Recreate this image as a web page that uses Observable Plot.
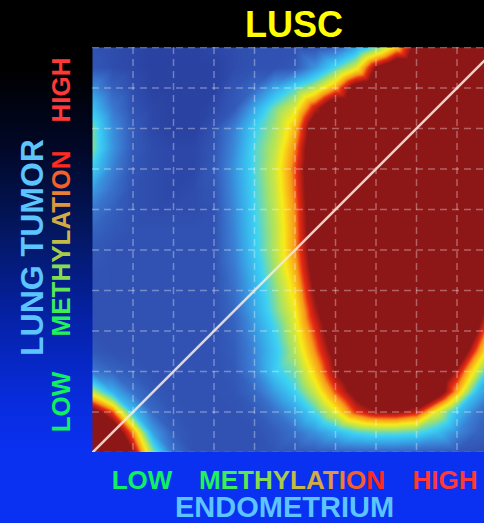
<!DOCTYPE html>
<html>
<head>
<meta charset="utf-8">
<script src="https://cdn.jsdelivr.net/npm/d3@7"></script>
<script src="https://cdn.jsdelivr.net/npm/@observablehq/plot@0.6"></script>
<style>
  html, body { margin: 0; padding: 0; }
  body {
    width: 484px; height: 523px; overflow: hidden;
    background: linear-gradient(to bottom, #000 0px, #000 70px, #010828 150px, #031760 230px, #0522a8 320px, #082cdc 400px, #0a30f0 450px, #0a30f2 523px);
    font-family: "Liberation Sans", Arial, sans-serif;
  }
  #wrap { position: relative; width: 484px; height: 523px; }
  #wrap > svg { position: absolute; left: 0; top: 0; }
</style>
</head>
<body>
<div id="wrap"></div>
<script>
// ---- data ----
const title = "LUSC";
const xLabel = "ENDOMETRIUM";
const yLabel = "LUNG TUMOR";
const scaleWords = ["LOW", "METHYLATION", "HIGH"];
const methylationColors = ["#22f25a", "#3cee58", "#5ee656", "#84dc52", "#a8cc4a", "#c4ba46", "#d4aa42", "#e0983c", "#ea8034", "#f4602a", "#ff2a20"];

// sample grid of the density surface (x: endometrium, y: lung tumor methylation)
const gridX = [0, 0.05, 0.10, 0.15, 0.20, 0.25, 0.30, 0.35, 0.40, 0.45, 0.50, 0.55, 0.60, 0.65, 0.70, 0.75, 0.80, 0.85, 0.90, 0.95, 1.00];
const gridY = [1.00, 0.95, 0.90, 0.85, 0.80, 0.75, 0.70, 0.65, 0.60, 0.55, 0.50, 0.45, 0.40, 0.35, 0.30, 0.25, 0.20, 0.15, 0.10, 0.05, 0];
const density = [
  [1.0, 0.9, 0.8, 0.7, 0.7, 0.7, 0.8, 0.9, 1.0, 1.0, 1.0, 1.0, 1.5, 2.9, 4.5, 6.5, 9.0, 10, 10, 10, 10],
  [1.1, 0.9, 0.8, 0.7, 0.7, 0.7, 0.7, 0.9, 1.0, 1.0, 1.2, 2.6, 4.2, 5.7, 8.6, 10, 10, 10, 10, 10, 10],
  [2.5, 1.4, 0.9, 0.7, 0.7, 0.7, 0.7, 1.1, 1.6, 3.0, 4.2, 5.3, 6.9, 9.2, 10, 10, 10, 10, 10, 10, 10],
  [3.6, 2.0, 1.0, 0.8, 0.7, 0.7, 0.8, 1.2, 3.0, 4.6, 5.7, 8.0, 10, 10, 10, 10, 10, 10, 10, 10, 10],
  [4.6, 2.5, 1.2, 0.8, 0.7, 0.7, 1.0, 2.2, 3.9, 5.0, 6.6, 9.5, 10, 10, 10, 10, 10, 10, 10, 10, 10],
  [4.7, 2.6, 1.2, 0.9, 0.8, 0.8, 1.1, 2.4, 4.2, 5.3, 7.1, 9.8, 10, 10, 10, 10, 10, 10, 10, 10, 10],
  [3.9, 2.2, 1.1, 0.9, 0.8, 0.8, 1.2, 2.6, 4.2, 5.5, 7.4, 9.8, 10, 10, 10, 10, 10, 10, 10, 10, 10],
  [2.8, 1.8, 1.0, 0.9, 0.8, 0.9, 1.1, 2.5, 4.1, 5.4, 7.3, 9.7, 10, 10, 10, 10, 10, 10, 10, 10, 10],
  [2.0, 1.4, 1.0, 0.9, 0.9, 0.9, 1.0, 2.4, 4.0, 5.3, 7.1, 9.6, 10, 10, 10, 10, 10, 10, 10, 10, 10],
  [1.5, 1.2, 1.0, 1.0, 1.0, 1.0, 1.0, 2.3, 3.9, 5.2, 7.0, 9.5, 10, 10, 10, 10, 10, 10, 10, 10, 10],
  [1.2, 1.0, 1.0, 1.0, 1.0, 1.0, 1.0, 2.2, 3.8, 5.2, 7.0, 9.4, 10, 10, 10, 10, 10, 10, 10, 10, 10],
  [1.1, 1.0, 1.0, 1.0, 1.0, 1.0, 1.0, 2.0, 3.5, 5.0, 6.7, 9.1, 10, 10, 10, 10, 10, 10, 10, 10, 9.2],
  [1.0, 1.0, 1.0, 1.0, 1.0, 1.0, 1.0, 1.8, 3.2, 4.7, 6.3, 8.7, 10, 10, 10, 10, 10, 10, 10, 10, 8.0],
  [1.0, 1.0, 1.0, 1.0, 1.0, 1.0, 1.0, 1.6, 3.0, 4.5, 5.9, 8.2, 10, 10, 10, 10, 10, 10, 10, 9.5, 6.8],
  [1.0, 1.0, 1.0, 1.0, 1.0, 1.0, 1.0, 1.4, 2.6, 4.0, 5.6, 7.6, 9.6, 10, 10, 10, 10, 10, 10, 8.5, 5.5],
  [1.2, 1.0, 1.0, 1.0, 1.0, 1.0, 1.0, 1.3, 2.3, 3.7, 5.2, 7.1, 9.0, 10, 10, 10, 10, 10, 10, 7.2, 4.5],
  [2.0, 1.5, 1.2, 1.0, 1.0, 1.0, 1.0, 1.2, 2.2, 3.8, 4.6, 6.4, 8.5, 9.8, 10, 10, 10, 10, 8.2, 5.5, 2.5],
  [5.4, 3.2, 1.8, 1.2, 1.0, 1.0, 1.0, 1.1, 1.6, 2.8, 4.0, 5.5, 7.4, 9.0, 10, 10, 10, 9.6, 6.8, 3.5, 1.8],
  [9.2, 7.4, 3.6, 1.6, 1.1, 1.0, 1.0, 1.0, 1.2, 1.8, 2.8, 4.2, 5.8, 7.6, 8.4, 8.5, 8.0, 5.8, 3.6, 2.0, 1.2],
  [10, 9.8, 7.0, 2.8, 1.3, 1.0, 1.0, 1.0, 1.0, 1.3, 1.8, 2.6, 3.4, 4.2, 4.5, 4.5, 4.3, 3.6, 2.4, 1.5, 1.1],
  [10, 10, 8.6, 4.8, 1.8, 1.0, 1.0, 1.0, 1.0, 1.1, 1.1, 1.2, 1.3, 1.4, 1.4, 1.4, 1.3, 1.2, 1.1, 1.0, 1.0]
];
const gridTicks = [0.1, 0.2, 0.3, 0.4, 0.5, 0.6, 0.7, 0.8, 0.9];
const gridTicksY = [0, 0.1, 0.2, 0.3, 0.4, 0.5, 0.6, 0.7, 0.8, 0.9, 1];
const diagonal = [{x: 0, y: 0}, {x: 1, y: 1}];

// jet-like colour ramp
const colorDomain = [0.7, 1.0, 2.0, 3.0, 4.0, 5.0, 6.0, 7.0, 7.6, 8.5];
const colorRange = ["#2a42a2", "#3152b2", "#3a78d0", "#38a8e8", "#3cd2f4", "#a6e268", "#f8ec18", "#f89818", "#e82a14", "#8d1616"];

// ---- build ----
const points = gridY.flatMap((y, i) => gridX.map((x, j) => ({x, y, v: density[i][j]})));

const W = 484, H = 523;
const mL = 92, mT = 47, mB = 71;
const plotH = H - mT - mB; // 405
const xMax = (W - mL) / plotH; // plot area is square; right side is cut by the window

const chart = Plot.plot({
  width: W,
  height: H,
  marginLeft: mL,
  marginRight: 0,
  marginTop: mT,
  marginBottom: mB,
  style: {background: "transparent", overflow: "hidden"},
  x: {domain: [0, xMax], axis: null},
  y: {domain: [0, 1], axis: null},
  color: {type: "linear", domain: colorDomain, range: colorRange, clamp: true},
  marks: [
    Plot.raster(points, {x: "x", y: "y", fill: "v", interpolate: "barycentric", x1: 0, x2: 1, y1: 0, y2: 1, clip: true}),
    Plot.ruleX(gridTicks, {stroke: "white", strokeOpacity: 0.33, strokeWidth: 1.5, strokeDasharray: "7,5"}),
    Plot.ruleY(gridTicksY, {stroke: "white", strokeOpacity: 0.33, strokeWidth: 1.5, strokeDasharray: "7,5", clip: true}),
    Plot.line(diagonal, {x: "x", y: "y", stroke: "#f6e6da", strokeOpacity: 0.9, strokeWidth: 2.5, clip: true})
  ]
});
document.getElementById("wrap").appendChild(chart);

// ---- text labels (overlay) ----
const NS = "http://www.w3.org/2000/svg";
const overlay = document.createElementNS(NS, "svg");
overlay.setAttribute("width", W);
overlay.setAttribute("height", H);
overlay.style.fontFamily = '"Liberation Sans", Arial, sans-serif';
overlay.style.fontWeight = "bold";
document.getElementById("wrap").appendChild(overlay);

function addText(str, {x, y, size, fill, rotate = 0, colors = null}) {
  const t = document.createElementNS(NS, "text");
  t.setAttribute("text-anchor", "middle");
  t.setAttribute("font-size", size);
  t.setAttribute("transform", `translate(${x},${y}) rotate(${rotate})`);
  if (colors) {
    [...str].forEach((ch, i) => {
      const s = document.createElementNS(NS, "tspan");
      s.setAttribute("fill", colors[i]);
      s.textContent = ch;
      t.appendChild(s);
    });
  } else {
    t.setAttribute("fill", fill);
    t.textContent = str;
  }
  overlay.appendChild(t);
}

const green = "#10f060", red = "#ff3838", sky = "#5cc4ff";
addText(title, {x: 294, y: 37, size: 36, fill: "#ffff00"});
// bottom axis words
addText(scaleWords[0], {x: 142, y: 489, size: 26, fill: green});
addText(scaleWords[1], {x: 292, y: 489, size: 26, colors: methylationColors});
addText(scaleWords[2], {x: 445, y: 489, size: 26, fill: red});
addText(xLabel, {x: 284.5, y: 517, size: 29, fill: sky});
// left axis words
addText(yLabel, {x: 43, y: 247.5, size: 32, fill: sky, rotate: -90});
addText(scaleWords[0], {x: 70, y: 402, size: 26, fill: green, rotate: -90});
addText(scaleWords[1], {x: 70, y: 243.5, size: 26, colors: methylationColors, rotate: -90});
addText(scaleWords[2], {x: 70, y: 90, size: 26, fill: red, rotate: -90});
</script>
</body>
</html>
